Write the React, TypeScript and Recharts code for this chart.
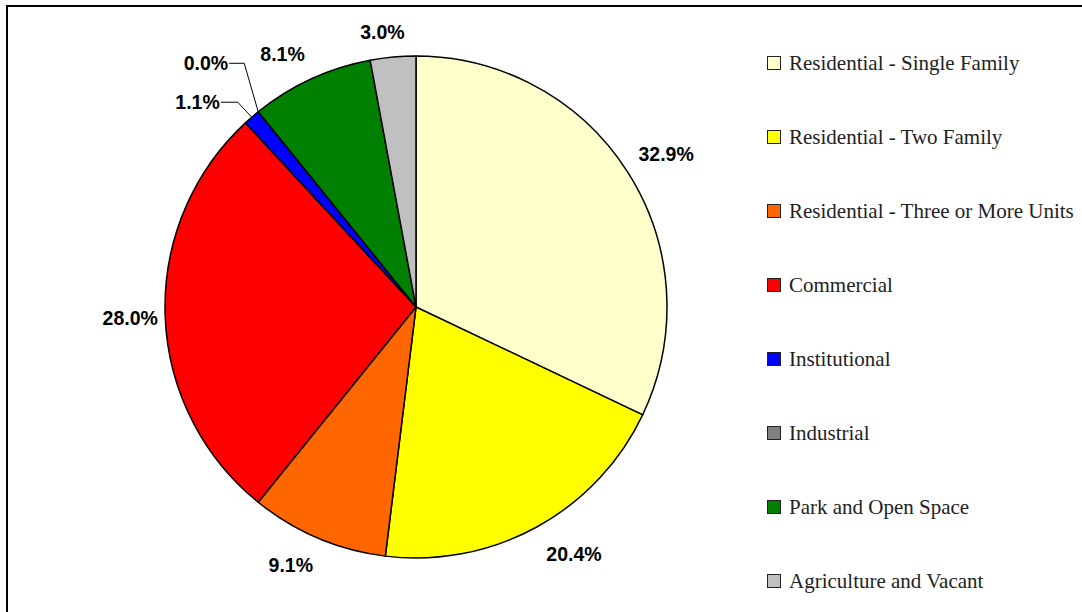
import React from 'react';
import { PieChart, Pie, Cell } from 'recharts';

const categories = [
  'Residential - Single Family',
  'Residential - Two Family',
  'Residential - Three or More Units',
  'Commercial',
  'Institutional',
  'Industrial',
  'Park and Open Space',
  'Agriculture and Vacant',
];

const shares = [32.9, 20.4, 9.1, 28.0, 1.1, 0.0, 8.1, 3.0];

const colors = ['#FFFFCC', '#FFFF00', '#FF6600', '#FF0000', '#0000FF', '#808080', '#008000', '#C0C0C0'];

const data = categories.map((name, i) => ({ name, value: shares[i], color: colors[i] }));

const RADIAN = Math.PI / 180;
const LABEL_SIZE = 19.5;

// small slices get an elbow leader line off to the left
const leaders: Record<number, { dx: number; dy: number; run: number }> = {
  4: { dx: -14, dy: -15, run: 17 },
  5: { dx: -14, dy: -48.5, run: 15 },
};

// hand nudges for the outside labels (degrees, px)
const nudges: Record<number, { da: number; dr: number }> = {
  0: { da: 0.8, dr: 0 },
  1: { da: -3.8, dr: 6 },
  2: { da: 2.9, dr: 4 },
  3: { da: -0.3, dr: -7 },
  6: { da: -3.1, dr: 2.5 },
  7: { da: -1.7, dr: 0 },
};

const renderLabel = (props: any) => {
  const { cx, cy, midAngle, outerRadius, index, value } = props;
  const text = `${Number(value).toFixed(1)}%`;
  const style = { fontFamily: '"Liberation Sans", Arial, sans-serif', fontWeight: 700, fontSize: LABEL_SIZE, fill: '#000' };
  const lead = leaders[index];
  if (lead) {
    const ex = cx + outerRadius * Math.cos(-midAngle * RADIAN);
    const ey = cy + outerRadius * Math.sin(-midAngle * RADIAN);
    const bx = ex + lead.dx;
    const by = ey + lead.dy;
    const tx = bx - lead.run;
    return (
      <g key={`lbl-${index}`}>
        <polyline points={`${ex},${ey} ${bx},${by} ${tx},${by}`} fill="none" stroke="#000" strokeWidth={1} />
        <text x={tx - 1} y={by} textAnchor="end" dominantBaseline="central" style={style}>
          {text}
        </text>
      </g>
    );
  }
  const n = nudges[index] || { da: 0, dr: 0 };
  const ang = (midAngle - n.da) * RADIAN;
  const cos = Math.cos(-ang);
  const sin = Math.sin(-ang);
  // keep the label box a fixed gap away from the rim
  const digits = text.replace(/[^0-9]/g, '').length;
  const halfW = (LABEL_SIZE * (digits * 0.556 + 0.278 + 0.889)) / 2;
  const halfH = 9;
  const r = outerRadius + 14 + Math.abs(cos) * halfW + Math.abs(sin) * halfH + n.dr;
  const x = cx + r * cos;
  const y = cy + r * sin;
  return (
    <text key={`lbl-${index}`} x={x} y={y} textAnchor="middle" dominantBaseline="central" style={style}>
      {text}
    </text>
  );
};

const LegendList = () => (
  <div style={{ position: 'absolute', left: 767, top: 26, width: 330 }}>
    {data.map((d) => (
      <div key={d.name} style={{ height: 74, display: 'flex', alignItems: 'center', whiteSpace: 'nowrap' }}>
        <span
          style={{
            display: 'inline-block',
            width: 12,
            height: 12,
            background: d.color,
            border: '1.5px solid #222',
            marginRight: 8,
          }}
        />
        <span style={{ fontFamily: '"Liberation Serif", "Times New Roman", serif', fontSize: 21, color: '#222' }}>
          {d.name}
        </span>
      </div>
    ))}
  </div>
);

export default function App() {
  return (
    <div style={{ position: 'absolute', left: 0, top: 0, width: 1082, height: 612, overflow: 'hidden', background: '#fff' }}>
      <div
        style={{
          position: 'absolute',
          left: 6,
          top: 5,
          width: 1200,
          height: 700,
          borderLeft: '2px solid #000',
          borderTop: '2px solid #000',
        }}
      />
      <PieChart
        width={1082}
        height={612}
        margin={{ top: 0, right: 0, bottom: 0, left: 0 }}
        style={{ position: 'absolute', left: 0, top: 0 }}
      >
        <Pie
          data={data}
          dataKey="value"
          nameKey="name"
          cx={416}
          cy={307}
          outerRadius={251}
          startAngle={90}
          endAngle={-270}
          stroke="#000"
          strokeWidth={1.5}
          label={renderLabel}
          labelLine={false}
          isAnimationActive={false}
        >
          {data.map((d, i) => (
            <Cell key={`cell-${i}`} fill={d.color} />
          ))}
        </Pie>
      </PieChart>
      <LegendList />
    </div>
  );
}
